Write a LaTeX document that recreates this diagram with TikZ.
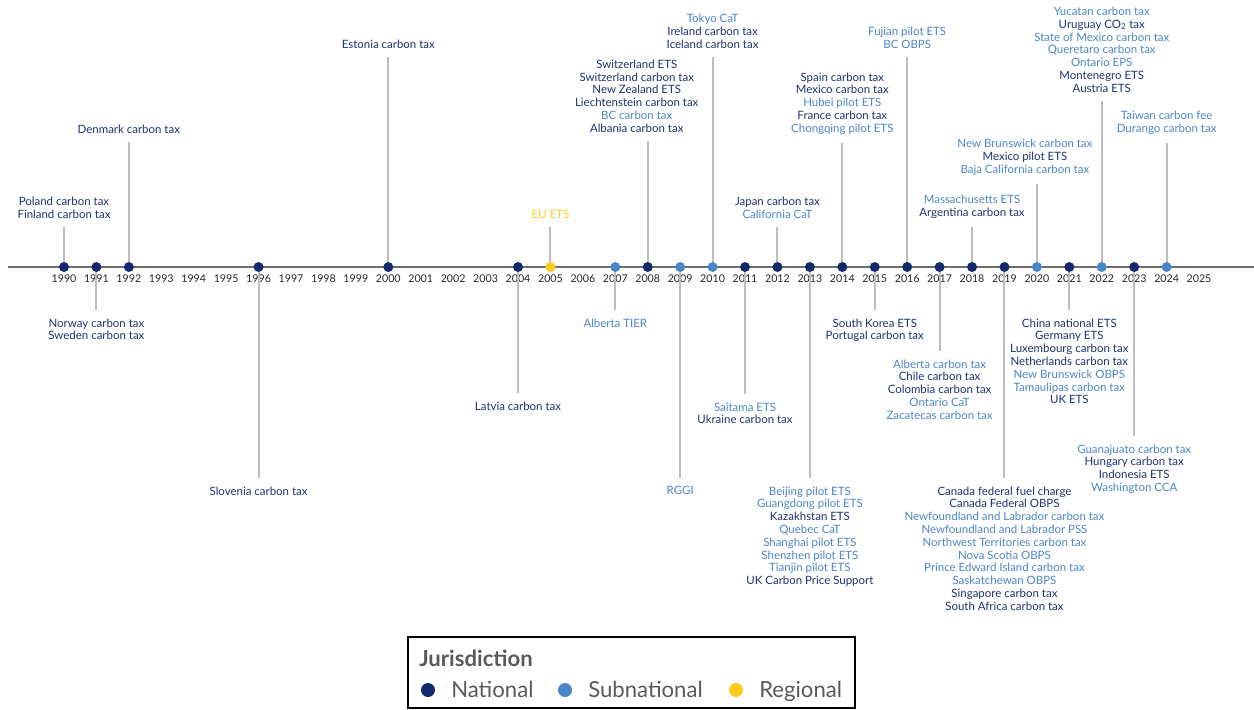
\documentclass[tikz,border=0pt]{standalone}
\usepackage{fontspec}
\setmainfont{Lato}
\definecolor{natc}{HTML}{14296B}
\definecolor{subc}{HTML}{4A86C8}
\definecolor{regc}{HTML}{FFCB1F}
\definecolor{nattxt}{HTML}{1E3272}
\definecolor{stemc}{HTML}{BDBDBD}
\definecolor{axisc}{HTML}{6E6E6E}
\definecolor{legtxt}{HTML}{595959}
\newcommand{\slab}[1]{\textcolor{subc}{#1}}
\newcommand{\yrx}[1]{64+(#1-1990)*32.43}
\begin{document}
\begin{tikzpicture}[x=0.75pt,y=-0.75pt,
    axis/.style={draw=axisc,line width=1.5pt},
    stem/.style={draw=stemc,line width=1.5pt},
    dot/.style={circle,inner sep=0pt,minimum size=7.5pt},
    nat/.style={dot,fill=natc},
    subn/.style={dot,fill=subc},
    reg/.style={dot,fill=regc},
    yr/.style={font=\fontsize{8}{9}\selectfont,text=black!85,anchor=base},
    lab/.style={font=\fontsize{8.6}{9.6}\selectfont,text=nattxt,align=center,inner sep=0pt,outer ysep=6.5pt},
    up/.style={lab,anchor=south},
    down/.style={lab,anchor=north},
    legdot/.style={circle,inner sep=0pt,minimum size=10.5pt},
    legtext/.style={font=\fontsize{16.6}{18}\selectfont,text=legtxt,anchor=base west,inner sep=0pt}]
        \useasboundingbox (0,0) rectangle (1254,710);
        % asse del tempo
        \coordinate (axl) at (8,267);
        \coordinate (axr) at (1254,267);
        \draw[axis] (axl) -- (axr);
        \foreach \y in {1990,...,2025}
            \node[yr] (yr\y) at ({\yrx{\y}},282) {\y};
        % punti
        \foreach \y/\k in {1990/nat,1991/nat,1992/nat,1996/nat,2000/nat,2004/nat,2005/reg,2007/subn,
                2008/nat,2009/subn,2010/subn,2011/nat,2012/nat,2013/nat,2014/nat,2015/nat,2016/nat,
                2017/nat,2018/nat,2019/nat,2020/subn,2021/nat,2022/subn,2023/nat,2024/subn}
            \node[\k] (d\y) at ({\yrx{\y}},267) {};
        % etichette sopra
        \node[up] (l1990) at ({\yrx{1990}},227) {Poland carbon tax\\Finland carbon tax};
        \node[up] (l1992) at ({\yrx{1992}},142) {Denmark carbon tax};
        \node[up] (l2000) at ({\yrx{2000}},57) {Estonia carbon tax};
        \node[up,text=regc] (l2005) at ({\yrx{2005}},227) {EU ETS};
        \node[up] (l2008) at ({\yrx{2008}-11},141) {Switzerland ETS\\Switzerland carbon tax\\New Zealand ETS\\Liechtenstein carbon tax\\\slab{BC carbon tax}\\Albania carbon tax};
        \node[up] (l2010) at ({\yrx{2010}},57) {\slab{Tokyo CaT}\\Ireland carbon tax\\Iceland carbon tax};
        \node[up] (l2012) at ({\yrx{2012}},227) {Japan carbon tax\\\slab{California CaT}};
        \node[up] (l2014) at ({\yrx{2014}},143) {Spain carbon tax\\Mexico carbon tax\\\slab{Hubei pilot ETS}\\France carbon tax\\\slab{Chongqing pilot ETS}};
        \node[up] (l2016) at ({\yrx{2016}},57) {\slab{Fujian pilot ETS}\\\slab{BC OBPS}};
        \node[up] (l2018) at ({\yrx{2018}},227) {\slab{Massachusetts ETS}\\Argentina carbon tax};
        \node[up] (l2020) at ({\yrx{2020}-12},184) {\slab{New Brunswick carbon tax}\\Mexico pilot ETS\\\slab{Baja California carbon tax}};
        \node[up] (l2022) at ({\yrx{2022}},101) {\slab{Yucatan carbon tax}\\Uruguay CO\textsubscript{2} tax\\\slab{State of Mexico carbon tax}\\\slab{Queretaro carbon tax}\\\slab{Ontario EPS}\\Montenegro ETS\\Austria ETS};
        \node[up] (l2024) at ({\yrx{2024}},143) {\slab{Taiwan carbon fee}\\\slab{Durango carbon tax}};
        % etichette sotto
        \node[down] (l1991) at ({\yrx{1991}},310) {Norway carbon tax\\Sweden carbon tax};
        \node[down] (l1996) at ({\yrx{1996}},478) {Slovenia carbon tax};
        \node[down] (l2004) at ({\yrx{2004}},393) {Latvia carbon tax};
        \node[down] (l2007) at ({\yrx{2007}},310) {\slab{Alberta TIER}};
        \node[down] (l2009) at ({\yrx{2009}},478) {\slab{RGGI}};
        \node[down] (l2011) at ({\yrx{2011}},394) {\slab{Saitama ETS}\\Ukraine carbon tax};
        \node[down] (l2013) at ({\yrx{2013}},478) {\slab{Beijing pilot ETS}\\\slab{Guangdong pilot ETS}\\Kazakhstan ETS\\\slab{Quebec CaT}\\\slab{Shanghai pilot ETS}\\\slab{Shenzhen pilot ETS}\\\slab{Tianjin pilot ETS}\\UK Carbon Price Support};
        \node[down] (l2015) at ({\yrx{2015}},310) {South Korea ETS\\Portugal carbon tax};
        \node[down] (l2017) at ({\yrx{2017}},351) {\slab{Alberta carbon tax}\\Chile carbon tax\\Colombia carbon tax\\\slab{Ontario CaT}\\\slab{Zacatecas carbon tax}};
        \node[down] (l2019) at ({\yrx{2019}},478) {Canada federal fuel charge\\Canada Federal OBPS\\\slab{Newfoundland and Labrador carbon tax}\\\slab{Newfoundland and Labrador PSS}\\\slab{Northwest Territories carbon tax}\\\slab{Nova Scotia OBPS}\\\slab{Prince Edward Island carbon tax}\\\slab{Saskatchewan OBPS}\\Singapore carbon tax\\South Africa carbon tax};
        \node[down] (l2021) at ({\yrx{2021}},310) {China national ETS\\Germany ETS\\Luxembourg carbon tax\\Netherlands carbon tax\\\slab{New Brunswick OBPS}\\\slab{Tamaulipas carbon tax}\\UK ETS};
        \node[down] (l2023) at ({\yrx{2023}},436) {\slab{Guanajuato carbon tax}\\Hungary carbon tax\\Indonesia ETS\\\slab{Washington CCA}};
        % aste
        \foreach \y in {1990,1991,1992,1996,2000,2004,2005,2007,2009,2010,2011,2012,2013,
                2014,2015,2016,2017,2018,2019,2021,2022,2023,2024}
            \draw[stem] (d\y) -- (l\y);
        \draw[stem] (d2008) -- (d2008 |- l2008.south);
        \draw[stem] (d2020) -- (d2020 |- l2020.south);
        % legenda
        \draw[line width=0.8pt] (408,637) rectangle (855,708);
        \node[legtext,font=\fontsize{16.6}{18}\selectfont\bfseries] (jur) at (419,666) {Jurisdiction};
        \node[legdot,fill=natc] (lnat) at (428,690) {};
        \node[legtext] (tnat) at (451,697) {National};
        \node[legdot,fill=subc] (lsub) at (565,690) {};
        \node[legtext] (tsub) at (588,697) {Subnational};
        \node[legdot,fill=regc] (lreg) at (736,690) {};
        \node[legtext] (treg) at (759,697) {Regional};
\end{tikzpicture}
\end{document}
